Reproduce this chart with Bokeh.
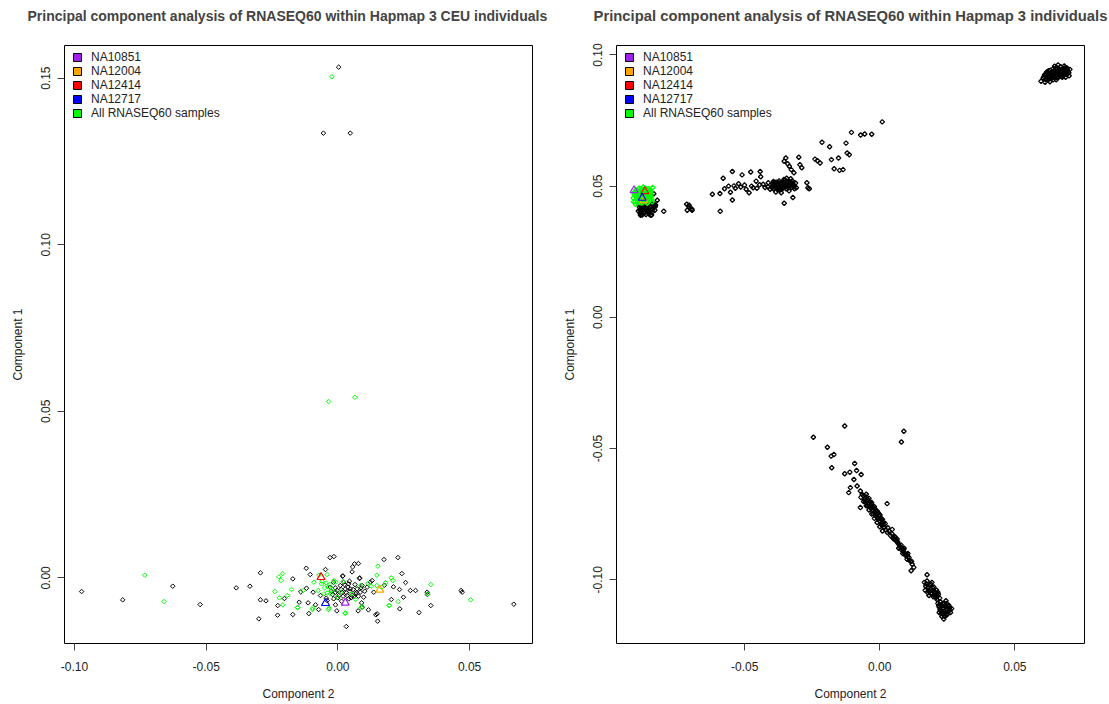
import math
from bokeh.plotting import figure
from bokeh.models import Range1d, FixedTicker, PrintfTickFormatter, Legend, LegendItem, Title
from bokeh.layouts import row
from bokeh.embed import file_html
from bokeh.resources import INLINE

# ---------------- data: left panel (CEU PCA) ----------------
ceu_hapmap_x = [-0.0973, -0.0817, -0.0627, -0.0523, -0.0386, -0.0334, -0.0294, -0.0294, -0.0273, -0.0300,
                -0.0229, -0.0228, -0.0203, -0.0171, -0.0171, -0.0147, -0.0141, -0.0120, -0.0119, -0.0113,
                -0.0110, -0.0105, -0.0094, -0.0085, -0.0073, -0.0047, -0.0030, -0.0015, -0.0044, -0.0004,
                -0.0009, 0.0019, 0.0032, 0.0056, 0.0063, 0.0078, 0.0077, 0.0082, 0.0090, 0.0116,
                0.0130, 0.0144, 0.0151, 0.0175, 0.0177, 0.0211, 0.0228, 0.0234, 0.0235, 0.0243,
                0.0249, 0.0257, 0.0275, 0.0295, 0.0308, 0.0339, 0.0340, 0.0353, 0.0468, 0.0472,
                0.0668, 0.0203,
                0.0009, -0.0003, 0.0003, 0.0016, 0.0028, 0.0035, 0.0041, 0.0054, 0.0066, 0.0047,
                0.0073, 0.0085, 0.0098, 0.0111, 0.0018, 0.0054, 0.0083, -0.0016, -0.0009, -0.0029,
                -0.0016, 0.0022, 0.0041, 0.0092, 0.0123, 0.0136, -0.0066, -0.0041, 0.0092, 0.0149,
                -0.0020, -0.0010, 0.0000, 0.0012, 0.0020, 0.0025, 0.0032, 0.0038, 0.0045, 0.0050,
                0.0058, 0.0062, 0.0070, 0.0078, 0.0088, 0.0102, 0.0014, -0.0025, 0.0044, 0.0065,
                0.0003, -0.0055, 0.0047]
ceu_hapmap_y = [-0.0041, -0.0066, -0.0025, -0.0080, -0.0030, -0.0025, 0.0015, -0.0066, -0.0069, -0.0123,
                -0.0112, -0.0083, -0.0062, -0.0003, -0.0110, -0.0073, -0.0042, 0.0029, -0.0031, -0.0075,
                -0.0107, 0.0010, -0.0043, -0.0081, -0.0095, 0.0025, 0.0061, 0.0064, -0.0061, -0.0099,
                -0.0081, 0.0006, -0.0146, 0.0033, 0.0042, 0.0043, -0.0099, -0.0002, -0.0075, -0.0096,
                -0.0008, -0.0111, -0.0130, 0.0055, -0.0022, -0.0027, 0.0061, -0.0035, -0.0093, 0.0013,
                -0.0058, -0.0014, -0.0038, -0.0038, -0.0104, -0.0043, -0.0050, -0.0083, -0.0038, -0.0043,
                -0.0079, -0.0065,
                -0.0023, -0.0038, -0.0053, -0.0043, -0.0033, -0.0053, -0.0063, -0.0053, -0.0048, -0.0033,
                -0.0033, -0.0043, -0.0058, -0.0028, 0.0005, 0.0018, 0.0000, -0.0063, -0.0043, -0.0028,
                -0.0013, -0.0013, -0.0018, -0.0023, -0.0013, -0.0043, -0.0053, -0.0068, -0.0088, -0.0108,
                -0.0050, -0.0030, -0.0060, -0.0035, -0.0055, -0.0020, -0.0045, -0.0028, -0.0040, -0.0060,
                -0.0035, -0.0055, -0.0045, -0.0055, -0.0030, -0.0040, -0.0070, -0.0040, -0.0010, -0.0020,
                0.1533, 0.1335, 0.1335]

ceu_rnaseq_x = [-0.0733, -0.0660, -0.0210, -0.0216, -0.0239, -0.0222, -0.0209, -0.0192, -0.0176, -0.0152,
                -0.0132, -0.0096, -0.0075, -0.0072, -0.0041, -0.0037, -0.0034, -0.0028, -0.0015, 0.0020,
                0.0028, 0.0067, 0.0092, 0.0114, 0.0127, 0.0148, 0.0152, 0.0148, 0.0194, 0.0203,
                0.0209, 0.0229, 0.0341, 0.0353, 0.0504, -0.0003, 0.0010, -0.0025, -0.0008, -0.0053,
                -0.0062, -0.0091, 0.0052, 0.0166, 0.0181, 0.0086, -0.0224,
                -0.0154, -0.0097, -0.0036, 0.0028, 0.0089, 0.0196,
                -0.0060, -0.0050, -0.0040, -0.0030, -0.0020, -0.0045,
                -0.0023, -0.0035, 0.0065]
ceu_rnaseq_y = [0.0008, -0.0071, 0.0013, -0.0008, -0.0041, -0.0060, -0.0081, -0.0053, -0.0035, -0.0089,
                -0.0038, -0.0091, -0.0038, 0.0008, 0.0010, -0.0028, -0.0091, -0.0048, -0.0008, -0.0011,
                -0.0105, -0.0065, -0.0086, -0.0016, -0.0025, 0.0008, 0.0035, -0.0023, -0.0083, 0.0000,
                -0.0008, -0.0071, -0.0048, -0.0020, -0.0066, -0.0058, -0.0043, -0.0039, -0.0013, -0.0048,
                -0.0018, -0.0013, -0.0048, -0.0028, -0.0015, -0.0023, 0.0003,
                -0.0089, -0.0095, -0.0095, -0.0107, -0.0089, -0.0083,
                -0.0010, -0.0030, -0.0045, -0.0020, -0.0035, -0.0015,
                0.1504, 0.0529, 0.0542]

# highlighted individuals
sample_names = ["NA10851", "NA12004", "NA12414", "NA12717"]
sample_colors = ["#A020F0", "#FFA500", "#FF0000", "#0000FF"]
ceu_sample_x = [0.0028, 0.0159, -0.0064, -0.0047]
ceu_sample_y = [-0.0075, -0.0036, 0.0002, -0.0076]

# ---------------- data: right panel (all Hapmap 3 PCA) ----------------
asia_x = [0.0597, 0.0605, 0.0610, 0.0615, 0.0618, 0.0622, 0.0626, 0.0628, 0.0632, 0.0635,
          0.0638, 0.0640, 0.0643, 0.0645, 0.0648, 0.0650, 0.0653, 0.0655, 0.0658, 0.0660,
          0.0662, 0.0665, 0.0667, 0.0670, 0.0672, 0.0675, 0.0678, 0.0680, 0.0683, 0.0686,
          0.0690, 0.0693, 0.0697, 0.0701, 0.0704, 0.0612, 0.0630, 0.0660, 0.0688, 0.0647,
          0.0620, 0.0625, 0.0633, 0.0637, 0.0642, 0.0646, 0.0651, 0.0652, 0.0657, 0.0659,
          0.0663, 0.0666, 0.0669, 0.0673, 0.0676, 0.0679, 0.0682, 0.0685, 0.0689, 0.0692,
          0.0695, 0.0640, 0.0655, 0.0670, 0.0685, 0.0608, 0.0700, 0.0617]
asia_y = [0.0900, 0.0912, 0.0925, 0.0905, 0.0935, 0.0918, 0.0930, 0.0908, 0.0942, 0.0922,
          0.0912, 0.0935, 0.0948, 0.0928, 0.0915, 0.0940, 0.0905, 0.0925, 0.0950, 0.0935,
          0.0915, 0.0945, 0.0928, 0.0955, 0.0918, 0.0938, 0.0948, 0.0925, 0.0958, 0.0940,
          0.0930, 0.0950, 0.0938, 0.0921, 0.0945, 0.0896, 0.0898, 0.0962, 0.0915, 0.0957,
          0.0910, 0.0940, 0.0915, 0.0930, 0.0905, 0.0940, 0.0920, 0.0950, 0.0912, 0.0930,
          0.0940, 0.0920, 0.0945, 0.0930, 0.0915, 0.0940, 0.0930, 0.0950, 0.0940, 0.0925,
          0.0945, 0.0920, 0.0935, 0.0935, 0.0925, 0.0918, 0.0932, 0.0928]

europe_x = [-0.0894, -0.0890, -0.0887, -0.0885, -0.0882, -0.0878, -0.0875, -0.0872, -0.0870, -0.0866,
            -0.0864, -0.0861, -0.0858, -0.0855, -0.0852, -0.0849, -0.0846, -0.0843, -0.0840, -0.0836,
            -0.0833, -0.0831, -0.0880, -0.0860, -0.0845, -0.0837, -0.0824, -0.0830, -0.0886, -0.0849,
            -0.0889, -0.0884, -0.0879, -0.0874, -0.0869, -0.0865, -0.0860, -0.0856, -0.0851, -0.0847,
            -0.0842, -0.0838, -0.0876, -0.0867, -0.0853, -0.0891,
            -0.0800, -0.0706, -0.0713, -0.0695]
europe_y = [0.0405, 0.0420, 0.0395, 0.0435, 0.0410, 0.0425, 0.0398, 0.0440, 0.0415, 0.0392,
            0.0430, 0.0405, 0.0420, 0.0395, 0.0438, 0.0410, 0.0425, 0.0400, 0.0418, 0.0432,
            0.0408, 0.0422, 0.0390, 0.0445, 0.0390, 0.0471, 0.0446, 0.0428, 0.0389, 0.0389,
            0.0410, 0.0400, 0.0415, 0.0430, 0.0400, 0.0418, 0.0430, 0.0408, 0.0420, 0.0435,
            0.0410, 0.0425, 0.0408, 0.0410, 0.0400, 0.0430,
            0.0404, 0.0427, 0.0408, 0.0408]

admixed_x = [-0.0715, -0.0707, -0.0696, -0.0591, -0.0620, -0.0592, -0.0553, -0.0546, -0.0546, -0.0510,
             -0.0478, -0.0443, -0.0441, -0.0540, -0.0523, -0.0501, -0.0484, -0.0469, -0.0458, -0.0432,
             -0.0413, -0.0406, -0.0391, -0.0374, -0.0354, -0.0348, -0.0341, -0.0335, -0.0328, -0.0318,
             -0.0300, -0.0296, -0.0289, -0.0270, -0.0266, -0.0261, -0.0354, -0.0322, -0.0309, -0.0240,
             -0.0231, -0.0221, -0.0214, -0.0186, -0.0179, -0.0169, -0.0153, -0.0149, -0.0136, -0.0125,
             -0.0121, -0.0113, -0.0105, -0.0071, -0.0056, -0.0030, 0.0009,
             -0.0400, -0.0396, -0.0392, -0.0388, -0.0384, -0.0380, -0.0377, -0.0373, -0.0370, -0.0366,
             -0.0362, -0.0358, -0.0355, -0.0351, -0.0347, -0.0343, -0.0340, -0.0336, -0.0332, -0.0328,
             -0.0324, -0.0320, -0.0316, -0.0312, -0.0365, -0.0345, -0.0385, -0.0330,
             -0.0398, -0.0390, -0.0382, -0.0375, -0.0368, -0.0360, -0.0353, -0.0349, -0.0342, -0.0338,
             -0.0334, -0.0326, -0.0318, -0.0372, -0.0357, -0.0346, -0.0322, -0.0394, -0.0379, -0.0363,
             -0.0575, -0.0560, -0.0535, -0.0515, -0.0495, -0.0475, -0.0455, -0.0445, -0.0425, -0.0415,
             -0.0580]
admixed_y = [0.0431, 0.0421, 0.0413, 0.0404, 0.0469, 0.0472, 0.0477, 0.0447, 0.0556, 0.0543,
             0.0554, 0.0556, 0.0536, 0.0501, 0.0509, 0.0504, 0.0475, 0.0494, 0.0519, 0.0507,
             0.0513, 0.0488, 0.0504, 0.0513, 0.0595, 0.0607, 0.0585, 0.0576, 0.0563, 0.0551,
             0.0610, 0.0582, 0.0570, 0.0513, 0.0494, 0.0490, 0.0435, 0.0457, 0.0494, 0.0603,
             0.0597, 0.0588, 0.0667, 0.0650, 0.0601, 0.0566, 0.0607, 0.0560, 0.0563, 0.0664,
             0.0626, 0.0620, 0.0705, 0.0695, 0.0699, 0.0698, 0.0745,
             0.0495, 0.0510, 0.0488, 0.0502, 0.0515, 0.0493, 0.0507, 0.0520, 0.0485, 0.0500,
             0.0512, 0.0494, 0.0525, 0.0505, 0.0490, 0.0515, 0.0500, 0.0482, 0.0510, 0.0495,
             0.0520, 0.0505, 0.0490, 0.0512, 0.0475, 0.0530, 0.0478, 0.0528,
             0.0502, 0.0495, 0.0508, 0.0498, 0.0510, 0.0502, 0.0512, 0.0498, 0.0508, 0.0493,
             0.0518, 0.0503, 0.0498, 0.0493, 0.0518, 0.0520, 0.0512, 0.0518, 0.0487, 0.0487,
             0.0490, 0.0500, 0.0492, 0.0497, 0.0488, 0.0500, 0.0492, 0.0505, 0.0495, 0.0498,
             0.0530]

africa_x = [-0.0130, -0.0246, 0.0089, 0.0080, -0.0194, -0.0180, -0.0170, -0.0178, -0.0093, -0.0130,
            -0.0111, -0.0086, -0.0069, -0.0096, -0.0109, -0.0115, -0.0084, -0.0072, -0.0065, 0.0027,
            -0.0072,
            -0.0060, -0.0055, -0.0050, -0.0048, -0.0044, -0.0040, -0.0037, -0.0034, -0.0030, -0.0027,
            -0.0024, -0.0020, -0.0017, -0.0013, -0.0010, -0.0006, -0.0003, 0.0000, 0.0004, 0.0008,
            0.0011, 0.0015, 0.0018, 0.0022, -0.0045, -0.0025, -0.0008, 0.0002, -0.0052, -0.0033,
            -0.0016, 0.0007,
            -0.0050, -0.0040, -0.0030, -0.0020, -0.0010, 0.0000, 0.0010, 0.0020, 0.0030,
            -0.0070, -0.0060, -0.0050, -0.0040, -0.0030, -0.0020, -0.0010, 0.0000, 0.0010,
            -0.0057, -0.0042, -0.0028, -0.0012, 0.0005, 0.0014,
            0.0028, 0.0035, 0.0040, 0.0046, 0.0048, 0.0055, 0.0060, 0.0064, 0.0068, 0.0073,
            0.0077, 0.0082, 0.0088, 0.0092, 0.0095, 0.0101, 0.0108, 0.0113, 0.0120, 0.0126,
            0.0116, 0.0100, 0.0085,
            0.0045, 0.0052, 0.0058, 0.0066, 0.0070, 0.0079, 0.0086, 0.0090, 0.0097, 0.0104,
            0.0110, 0.0118,
            0.0175, 0.0165, 0.0170, 0.0175, 0.0180, 0.0185, 0.0190, 0.0195, 0.0198, 0.0202,
            0.0207, 0.0212, 0.0217, 0.0222, 0.0168, 0.0182, 0.0193, 0.0210,
            0.0172, 0.0178, 0.0183, 0.0188, 0.0192, 0.0197, 0.0200, 0.0205, 0.0209, 0.0214,
            0.0188, 0.0200, 0.0178, 0.0215,
            0.0215, 0.0220, 0.0225, 0.0228, 0.0232, 0.0236, 0.0240, 0.0243, 0.0247, 0.0250,
            0.0254, 0.0258, 0.0262, 0.0266, 0.0237, 0.0220, 0.0245, 0.0230,
            0.0218, 0.0223, 0.0227, 0.0231, 0.0234, 0.0238, 0.0242, 0.0245, 0.0249, 0.0252,
            0.0256, 0.0260, 0.0240, 0.0226, 0.0248, 0.0233]
africa_y = [-0.0414, -0.0457, -0.0434, -0.0475, -0.0495, -0.0529, -0.0523, -0.0573, -0.0557, -0.0596,
            -0.0590, -0.0584, -0.0599, -0.0618, -0.0649, -0.0668, -0.0643, -0.0662, -0.0675, -0.0710,
            -0.0725,
            -0.0680, -0.0690, -0.0685, -0.0700, -0.0695, -0.0710, -0.0702, -0.0718, -0.0712, -0.0725,
            -0.0735, -0.0728, -0.0742, -0.0738, -0.0750, -0.0745, -0.0758, -0.0752, -0.0765, -0.0772,
            -0.0780, -0.0790, -0.0800, -0.0810, -0.0718, -0.0748, -0.0765, -0.0778, -0.0705, -0.0728,
            -0.0755, -0.0785,
            -0.0674, -0.0690, -0.0706, -0.0722, -0.0738, -0.0754, -0.0770, -0.0786, -0.0802,
            -0.0686, -0.0702, -0.0718, -0.0734, -0.0750, -0.0766, -0.0782, -0.0798, -0.0814,
            -0.0695, -0.0712, -0.0738, -0.0760, -0.0790, -0.0800,
            -0.0820, -0.0815, -0.0832, -0.0808, -0.0840, -0.0835, -0.0852, -0.0845, -0.0862, -0.0870,
            -0.0877, -0.0888, -0.0885, -0.0898, -0.0903, -0.0922, -0.0915, -0.0930, -0.0941, -0.0953,
            -0.0966, -0.0905, -0.0900,
            -0.0825, -0.0845, -0.0840, -0.0855, -0.0880, -0.0868, -0.0892, -0.0880, -0.0910, -0.0900,
            -0.0925, -0.0930,
            -0.0981, -0.1010, -0.1025, -0.1005, -0.1040, -0.1020, -0.1050, -0.1030, -0.1065, -0.1045,
            -0.1060, -0.1075, -0.1055, -0.1070, -0.1040, -0.1060, -0.1010, -0.1040,
            -0.1015, -0.1030, -0.1045, -0.1035, -0.1055, -0.1040, -0.1058, -0.1050, -0.1068, -0.1062,
            -0.1015, -0.1028, -0.1050, -0.1048,
            -0.1090, -0.1105, -0.1085, -0.1120, -0.1100, -0.1130, -0.1090, -0.1115, -0.1135, -0.1100,
            -0.1120, -0.1108, -0.1125, -0.1110, -0.1150, -0.1125, -0.1080, -0.1140,
            -0.1098, -0.1115, -0.1095, -0.1128, -0.1110, -0.1120, -0.1100, -0.1125, -0.1112, -0.1130,
            -0.1098, -0.1115, -0.1140, -0.1130, -0.1090, -0.1090]

all_rnaseq_x = [-0.0913, -0.0910, -0.0906, -0.0903, -0.0900, -0.0897, -0.0894, -0.0891, -0.0888, -0.0885,
                -0.0882, -0.0879, -0.0876, -0.0873, -0.0870, -0.0867, -0.0864, -0.0861, -0.0858, -0.0855,
                -0.0852, -0.0849, -0.0846, -0.0843, -0.0841, -0.0904, -0.0896, -0.0887, -0.0878, -0.0869,
                -0.0860, -0.0850, -0.0893, -0.0874, -0.0856, -0.0908, -0.0884, -0.0866, -0.0848, -0.0899,
                -0.0880, -0.0862, -0.0912, -0.0845, -0.0871,
                -0.0902, -0.0895, -0.0889, -0.0883, -0.0877, -0.0872, -0.0865, -0.0859, -0.0853, -0.0847,
                -0.0890, -0.0868, -0.0857, -0.0905, -0.0881]
all_rnaseq_y = [0.0455, 0.0470, 0.0440, 0.0485, 0.0460, 0.0448, 0.0475, 0.0492, 0.0437, 0.0465,
                0.0452, 0.0480, 0.0497, 0.0445, 0.0470, 0.0458, 0.0488, 0.0435, 0.0475, 0.0462,
                0.0450, 0.0485, 0.0468, 0.0440, 0.0495, 0.0430, 0.0466, 0.0472, 0.0460, 0.0440,
                0.0452, 0.0472, 0.0440, 0.0487, 0.0490, 0.0478, 0.0490, 0.0474, 0.0458, 0.0452,
                0.0445, 0.0465, 0.0440, 0.0450, 0.0455,
                0.0472, 0.0455, 0.0482, 0.0468, 0.0452, 0.0478, 0.0448, 0.0482, 0.0470, 0.0478,
                0.0448, 0.0492, 0.0444, 0.0462, 0.0436]

all_sample_x = [-0.0910, -0.0873, -0.0870, -0.0880]
all_sample_y = [0.0484, 0.0445, 0.0480, 0.0455]

legend_labels = sample_names + ["All RNASEQ60 samples"]
legend_colors = sample_colors + ["#00FF00"]

left_xticks = [-0.10, -0.05, 0.00, 0.05]
left_yticks = [0.00, 0.05, 0.10, 0.15]
right_xticks = [-0.05, 0.00, 0.05]
right_yticks = [-0.10, -0.05, 0.00, 0.05, 0.10]

FONT = "Liberation Sans"
NAN = float("nan")


def make_fig(title, xr, yr, xticks, yticks, width, border_left, border_right):
    p = figure(width=width, height=704, x_range=Range1d(*xr), y_range=Range1d(*yr),
               output_backend="svg", toolbar_location=None,
               min_border_left=border_left, min_border_right=border_right,
               min_border_top=42, min_border_bottom=61)
    # spacer between the frame and the title
    p.add_layout(Title(text=" ", text_font_size="4px"), "above")
    p.title.text = title
    p.title.text_font = FONT
    p.title.text_font_size = "14.8px"
    p.title.text_font_style = "bold"
    p.title.align = "center"
    p.xgrid.visible = False
    p.ygrid.visible = False
    p.outline_line_color = "black"
    p.outline_line_width = 1
    p.outline_line_alpha = 1
    p.background_fill_color = "white"
    p.border_fill_color = "white"
    p.xaxis.ticker = FixedTicker(ticks=xticks)
    p.yaxis.ticker = FixedTicker(ticks=yticks)
    for ax in (p.xaxis[0], p.yaxis[0]):
        ax.formatter = PrintfTickFormatter(format="%.2f")
        ax.axis_line_color = None
        ax.major_tick_out = 7
        ax.major_tick_in = 0
        ax.minor_tick_out = 0
        ax.minor_tick_in = 0
        ax.major_tick_line_color = "#444444"
        ax.major_label_text_font = FONT
        ax.major_label_text_font_size = "12px"
        ax.major_label_text_color = "#222222"
        ax.axis_label_text_font = FONT
        ax.axis_label_text_font_size = "12px"
        ax.axis_label_text_font_style = "normal"
        ax.axis_label_text_color = "#222222"
    p.xaxis.axis_label = "Component 2"
    p.yaxis.axis_label = "Component 1"
    p.xaxis.major_label_standoff = 11
    p.xaxis.axis_label_standoff = 13
    p.yaxis.major_label_orientation = "vertical"
    p.yaxis.major_label_standoff = 7
    p.yaxis.axis_label_standoff = 14
    return p


def add_points(p, xs, ys, color, lw=1.0):
    p.scatter(xs, ys, marker="square", angle=math.pi / 4, size=3.2,
              fill_color=None, line_color=color, line_width=lw)


def add_samples(p, xs, ys):
    p.scatter(xs, ys, marker="triangle", size=8, fill_color=None,
              line_color=sample_colors, line_width=1.2)


def add_legend(p):
    items = []
    for lab, col in zip(legend_labels, legend_colors):
        r = p.quad(left=[NAN], right=[NAN], top=[NAN], bottom=[NAN],
                   fill_color=col, line_color="black", line_width=1)
        items.append(LegendItem(label=lab, renderers=[r]))
    leg = Legend(items=items, location=(8, 523))
    leg.label_text_font = FONT
    leg.label_text_font_size = "12px"
    leg.label_text_color = "#222222"
    leg.label_height = 13
    leg.glyph_height = 10
    leg.glyph_width = 10
    leg.spacing = 0
    leg.padding = 0
    leg.margin = 0
    leg.label_standoff = 9
    leg.border_line_color = None
    leg.background_fill_alpha = 0
    p.add_layout(leg)


p1 = make_fig("Principal component analysis of RNASEQ60 within Hapmap 3 CEU individuals",
              (-0.1038, 0.0739), (-0.0197, 0.1598), left_xticks, left_yticks, 554, 64, 22)
p1.title.text_font_size = "14px"
p1.title.align = "left"
p1.title.offset = -37
add_points(p1, ceu_hapmap_x, ceu_hapmap_y, "black")
add_points(p1, ceu_rnaseq_x, ceu_rnaseq_y, "#00FF00")
add_samples(p1, ceu_sample_x, ceu_sample_y)
add_legend(p1)

p2 = make_fig("Principal component analysis of RNASEQ60 within Hapmap 3 individuals",
              (-0.0975, 0.0758), (-0.1243, 0.1036), right_xticks, right_yticks, 555, 62, 25)
add_points(p2, asia_x, asia_y, "black", 1.3)
add_points(p2, europe_x, europe_y, "black", 1.3)
add_points(p2, admixed_x, admixed_y, "black", 1.3)
add_points(p2, africa_x, africa_y, "black", 1.3)
add_points(p2, all_rnaseq_x, all_rnaseq_y, "#00FF00", 1.3)
add_samples(p2, all_sample_x, all_sample_y)
add_legend(p2)

layout = row(p1, p2)
open("out.html", "w").write(file_html(layout, INLINE))
